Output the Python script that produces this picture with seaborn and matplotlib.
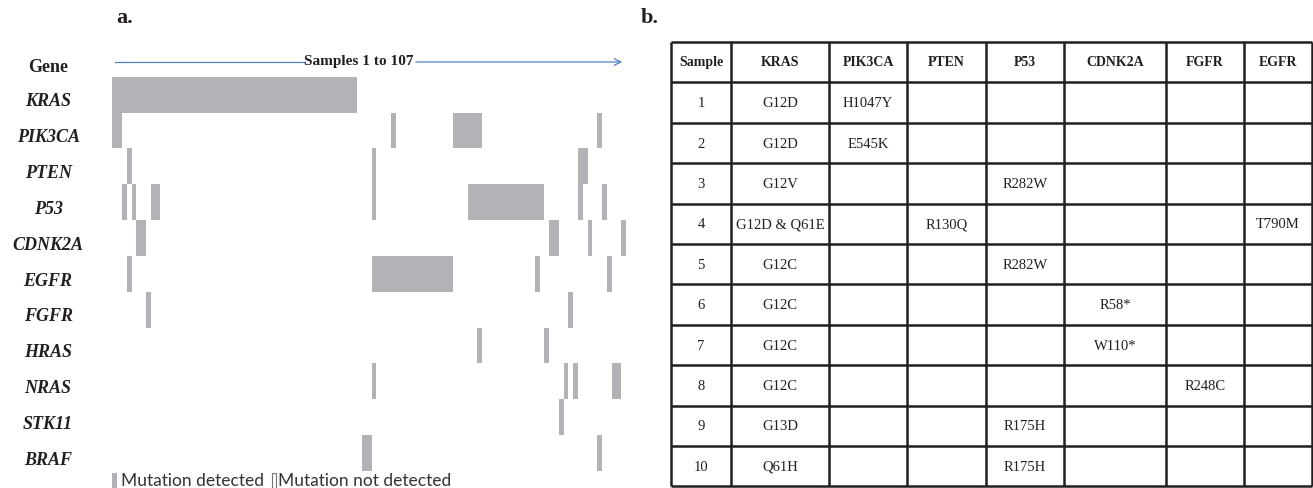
import pandas as pd
import matplotlib
matplotlib.use('Agg')
import matplotlib.pyplot as plt
import seaborn as sns
from matplotlib.colors import ListedColormap
from matplotlib.patches import Rectangle

# ---- panel a: samples with a mutation, as (first, last) runs of sample numbers
genes = ['KRAS', 'PIK3CA', 'PTEN', 'P53', 'CDNK2A', 'EGFR',
         'FGFR', 'HRAS', 'NRAS', 'STK11', 'BRAF']
n_samples = 107
kras_runs = [(1, 51)]
pik3ca_runs = [(1, 2), (59, 59), (72, 77), (102, 102)]
pten_runs = [(4, 4), (55, 55), (98, 99)]
p53_runs = [(3, 3), (5, 5), (9, 10), (55, 55), (75, 90), (98, 98), (103, 103)]
cdnk2a_runs = [(6, 7), (92, 93), (100, 100), (107, 107)]
egfr_runs = [(4, 4), (55, 71), (89, 89), (104, 104)]
fgfr_runs = [(8, 8), (96, 96)]
hras_runs = [(77, 77), (91, 91)]
nras_runs = [(55, 55), (95, 95), (97, 97), (105, 106)]
stk11_runs = [(94, 94)]
braf_runs = [(53, 54), (102, 102)]

# ---- panel b: table of the first ten samples
table_header = ['Sample', 'KRAS', 'PIK3CA', 'PTEN', 'P53', 'CDNK2A', 'FGFR', 'EGFR']
sample_ids = ['1', '2', '3', '4', '5', '6', '7', '8', '9', '10']
kras_mut = ['G12D', 'G12D', 'G12V', 'G12D & Q61E', 'G12C', 'G12C', 'G12C', 'G12C', 'G13D', 'Q61H']
pik3ca_mut = ['H1047Y', 'E545K', '', '', '', '', '', '', '', '']
pten_mut = ['', '', '', 'R130Q', '', '', '', '', '', '']
p53_mut = ['', '', 'R282W', '', 'R282W', '', '', '', 'R175H', 'R175H']
cdnk2a_mut = ['', '', '', '', '', 'R58*', 'W110*', '', '', '']
fgfr_mut = ['', '', '', '', '', '', '', 'R248C', '', '']
egfr_mut = ['', '', '', 'T790M', '', '', '', '', '', '']

GRAY = '#b1b3b6'
LINE_BLUE = '#4f81bd'
INK = '#231f20'
W, H = 1313, 488

# build the gene x sample matrix
all_runs = [kras_runs, pik3ca_runs, pten_runs, p53_runs, cdnk2a_runs, egfr_runs,
            fgfr_runs, hras_runs, nras_runs, stk11_runs, braf_runs]
mat = pd.DataFrame(0, index=genes, columns=range(1, n_samples + 1))
for gene, runs in zip(genes, all_runs):
    for a, b in runs:
        mat.loc[gene, a:b] = 1

sns.set_style('white')
plt.rcParams['font.family'] = ['Liberation Serif', 'DejaVu Serif']

fig = plt.figure(figsize=(W / 100, H / 100), dpi=100)

# heatmap axes placed in pixel units of the reference
x0, x1, y0, y1 = 112.5, 626.0, 76.7, 471.0
ax = fig.add_axes([x0 / W, 1 - y1 / H, (x1 - x0) / W, (y1 - y0) / H])
sns.heatmap(mat, ax=ax, cmap=ListedColormap(['white', GRAY]), vmin=0, vmax=1,
            cbar=False, xticklabels=False, yticklabels=True, linewidths=0)
ax.set_xlabel('')
ax.set_ylabel('')
# gene names sit a little below the row centres in the source
ax.set_yticks([i + 0.7 for i in range(len(genes))])
ax.set_yticklabels(genes)
ax.tick_params(axis='y', length=0, pad=46.4)
for t in ax.get_yticklabels():
    t.set_rotation(0)
    t.set_ha('center')
    t.set_fontstyle('italic')
    t.set_fontweight('bold')
    t.set_fontsize(13)
    t.set_color(INK)

# overlay in pixel coordinates for labels, arrow, legend and table
ov = fig.add_axes([0, 0, 1, 1])
ov.set_xlim(0, W)
ov.set_ylim(H, 0)
ov.set_axis_off()

ov.text(125, 23, 'a.', fontsize=16, fontweight='bold', ha='center', va='baseline', color=INK)
ov.text(650, 23, 'b.', fontsize=16, fontweight='bold', ha='center', va='baseline', color=INK)
ov.text(48, 67, 'Gene', fontsize=13, fontweight='bold', ha='center', va='center', color=INK)

# "Samples 1 to 107" arrow
ov.plot([115, 305], [62, 62], color=LINE_BLUE, lw=0.9)
ov.annotate('', xy=(625, 62), xytext=(413, 62),
            arrowprops=dict(arrowstyle='->', color=LINE_BLUE, lw=0.9, mutation_scale=12))
ov.text(359, 62, 'Samples 1 to 107', fontsize=11, fontweight='bold', ha='center',
        va='center', color=INK)

# legend
ov.add_patch(Rectangle((112, 473), 5, 15, color=GRAY, lw=0))
ov.text(121, 486, 'Mutation detected', fontsize=12.5, family=['Lato', 'DejaVu Sans'],
        color='#333333', va='baseline')
ov.add_patch(Rectangle((271.5, 473), 4.5, 15, fill=False, ec='#777777', lw=0.8))
ov.text(278, 486, 'Mutation not detected', fontsize=12.5, family=['Lato', 'DejaVu Sans'],
        color='#333333', va='baseline')

# table
col_x = [671, 731, 829, 907, 986, 1064, 1166, 1244, 1312]
top, row_h = 42.0, 40.4
n_rows = len(sample_ids) + 1
row_y = [top + i * row_h for i in range(n_rows + 1)]
ov.hlines(row_y, col_x[0], col_x[-1], color=INK, lw=1.8)
ov.vlines(col_x, row_y[0], row_y[-1], color=INK, lw=1.8)

columns = [sample_ids, kras_mut, pik3ca_mut, pten_mut, p53_mut, cdnk2a_mut, fgfr_mut, egfr_mut]
for j, name in enumerate(table_header):
    cx = (col_x[j] + col_x[j + 1]) / 2
    ov.text(cx, top + row_h / 2, name, fontsize=10, fontweight='bold',
            ha='center', va='center', color=INK)
    for i, val in enumerate(columns[j]):
        if val:
            ov.text(cx, top + (i + 1.5) * row_h + 1, val, fontsize=10.5,
                    ha='center', va='center', color=INK)

fig.savefig('out.png', dpi=100)
